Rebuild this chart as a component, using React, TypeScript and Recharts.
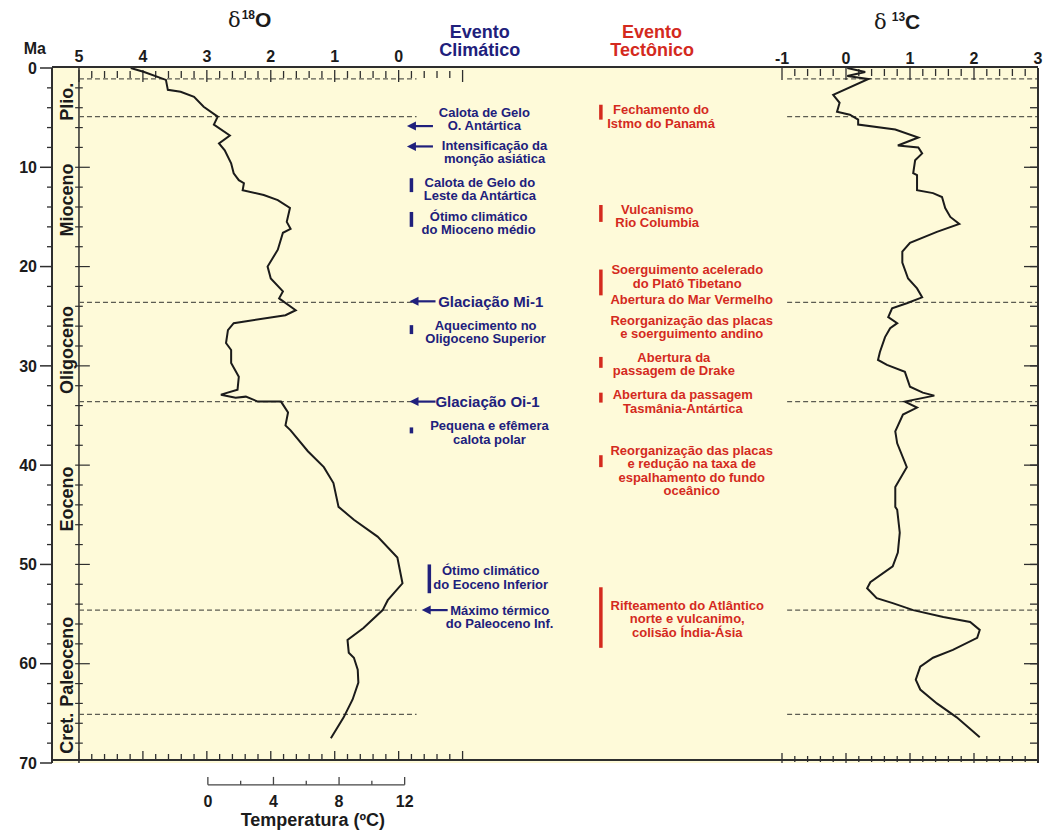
import React from 'react';
import {
  ScatterChart,
  Scatter,
  XAxis,
  YAxis,
  ReferenceLine,
  ReferenceDot,
  CartesianGrid,
} from 'recharts';

const FONT = '"Liberation Sans", Arial, Helvetica, sans-serif';
const NAVY = '#20207c';
const RED = '#d42a1e';
const INK = '#1b1b1b';
const FRAME = '#2e2e2e';
const DASH = '#5c5c52';
const CREAM = '#fefad9';

// ---------- axes / ticks ----------
const O18_DOMAIN: [number, number] = [-10, 5.421875];
const C13_DOMAIN: [number, number] = [-12.40625, 3];
const MA_DOMAIN: [number, number] = [0, 70];

const steps = (a: number, b: number, step: number) => {
  const n = Math.round((b - a) / step);
  const out: number[] = [];
  for (let i = 0; i <= n; i++) out.push(Math.round((a + i * step) * 1000) / 1000);
  return out;
};

const maTicks = [0, 10, 20, 30, 40, 50, 60, 70];
const maInnerMajor = [10, 20, 30, 40, 50, 60];
const maMinorTicks = steps(2, 68, 2).filter((v) => v % 10 !== 0);
const maAllTicks = steps(2, 68, 2);

const o18Labels = [5, 4, 3, 2, 1, 0];
const o18MajorTicks = [5, 4, 3, 2, 1, 0, -1];
const o18MinorTicks = steps(-1, 5, 0.2).filter((v) => Math.abs(v - Math.round(v)) > 1e-6);
const c13Labels = [-1, 0, 1, 2, 3];
const c13MajorTicks = [-1, 0, 1, 2, 3];
const c13MinorTicks = steps(-1, 3, 0.2).filter((v) => Math.abs(v - Math.round(v)) > 1e-6);

// temperature scale drawn under the δ18O panel (0 ºC ≈ δ18O 2.98, 12 ºC ≈ δ18O -0.09)
const tempLabels = [0, 4, 8, 12];
const tempMinor = [2, 6, 10];
const tempToO18 = (t: number) => 2.984 - 0.2565 * t;

// ---------- series ----------
const d18O = [
  { v: 4.19, ma: 0 }, { v: 3.98, ma: 0.4 }, { v: 3.64, ma: 1.2 }, { v: 3.61, ma: 2.2 },
  { v: 3.41, ma: 2.4 }, { v: 3.2, ma: 2.9 }, { v: 3.05, ma: 3.9 }, { v: 2.83, ma: 4.9 },
  { v: 2.89, ma: 5.7 }, { v: 2.64, ma: 6.8 }, { v: 2.81, ma: 7.6 }, { v: 2.72, ma: 8.3 },
  { v: 2.62, ma: 9.6 }, { v: 2.58, ma: 10.6 }, { v: 2.5, ma: 11.3 }, { v: 2.42, ma: 11.6 },
  { v: 2.44, ma: 12.3 }, { v: 2.11, ma: 12.8 }, { v: 1.89, ma: 13.3 }, { v: 1.7, ma: 14.1 },
  { v: 1.75, ma: 15.5 }, { v: 1.69, ma: 16.2 }, { v: 1.81, ma: 16.6 }, { v: 1.89, ma: 18.3 },
  { v: 2.05, ma: 20.0 }, { v: 2.0, ma: 21.2 }, { v: 1.81, ma: 22.5 }, { v: 1.87, ma: 23.2 },
  { v: 1.61, ma: 24.4 }, { v: 1.77, ma: 24.9 }, { v: 2.58, ma: 25.7 }, { v: 2.67, ma: 26.4 },
  { v: 2.7, ma: 27.7 }, { v: 2.62, ma: 28.4 }, { v: 2.62, ma: 29.7 }, { v: 2.5, ma: 31.1 },
  { v: 2.52, ma: 32.4 }, { v: 2.78, ma: 32.9 }, { v: 2.55, ma: 33.2 }, { v: 2.39, ma: 33.1 },
  { v: 2.2, ma: 33.6 }, { v: 1.84, ma: 33.6 }, { v: 1.73, ma: 34.7 }, { v: 1.77, ma: 36.0 },
  { v: 1.69, ma: 36.5 }, { v: 1.42, ma: 38.6 }, { v: 1.17, ma: 40.2 }, { v: 1.02, ma: 41.8 },
  { v: 0.94, ma: 44.2 }, { v: 0.7, ma: 45.5 }, { v: 0.33, ma: 47.2 }, { v: 0.02, ma: 49.3 },
  { v: -0.06, ma: 51.9 }, { v: 0.17, ma: 53.6 }, { v: 0.25, ma: 54.6 }, { v: 0.55, ma: 56.4 },
  { v: 0.8, ma: 57.6 }, { v: 0.78, ma: 58.9 }, { v: 0.7, ma: 59.4 }, { v: 0.64, ma: 60.6 },
  { v: 0.63, ma: 61.9 }, { v: 0.72, ma: 63.6 }, { v: 0.86, ma: 65.4 }, { v: 1.06, ma: 67.5 },
];

const d13C = [
  { v: 0.02, ma: 0 }, { v: 0.3, ma: 0.4 }, { v: 0.02, ma: 0.8 }, { v: 0.35, ma: 1.1 },
  { v: -0.2, ma: 2.7 }, { v: -0.1, ma: 3.5 }, { v: -0.14, ma: 4.4 }, { v: 0.06, ma: 4.7 },
  { v: 0.19, ma: 5.2 }, { v: 0.19, ma: 5.7 }, { v: 0.77, ma: 6.2 }, { v: 1.13, ma: 7.0 },
  { v: 0.81, ma: 7.8 }, { v: 1.13, ma: 8.0 }, { v: 1.19, ma: 8.6 }, { v: 1.08, ma: 9.3 },
  { v: 1.05, ma: 10.6 }, { v: 1.11, ma: 10.8 }, { v: 1.11, ma: 12.3 }, { v: 1.36, ma: 12.6 },
  { v: 1.5, ma: 13.0 }, { v: 1.55, ma: 14.1 }, { v: 1.63, ma: 15.0 }, { v: 1.77, ma: 15.7 },
  { v: 1.42, ma: 16.5 }, { v: 1.0, ma: 17.6 }, { v: 0.88, ma: 18.5 }, { v: 0.88, ma: 19.6 },
  { v: 0.97, ma: 21.2 }, { v: 1.11, ma: 22.2 }, { v: 1.19, ma: 23.1 }, { v: 0.95, ma: 23.7 },
  { v: 0.72, ma: 24.2 }, { v: 0.66, ma: 25.1 }, { v: 0.8, ma: 25.7 }, { v: 0.69, ma: 26.2 },
  { v: 0.61, ma: 27.1 }, { v: 0.53, ma: 28.6 }, { v: 0.5, ma: 29.4 }, { v: 0.64, ma: 29.9 },
  { v: 0.92, ma: 30.6 }, { v: 1.0, ma: 32.1 }, { v: 1.2, ma: 32.7 }, { v: 1.38, ma: 33.0 },
  { v: 0.92, ma: 33.6 }, { v: 1.11, ma: 34.2 }, { v: 0.89, ma: 34.9 }, { v: 0.77, ma: 36.6 },
  { v: 0.8, ma: 37.8 }, { v: 0.95, ma: 40.2 }, { v: 0.77, ma: 42.2 }, { v: 0.77, ma: 44.2 },
  { v: 0.8, ma: 44.5 }, { v: 0.84, ma: 46.8 }, { v: 0.81, ma: 48.8 }, { v: 0.73, ma: 50.2 },
  { v: 0.38, ma: 51.8 }, { v: 0.33, ma: 52.4 }, { v: 0.48, ma: 53.4 }, { v: 0.73, ma: 53.9 },
  { v: 1.05, ma: 54.6 }, { v: 1.52, ma: 55.3 }, { v: 1.94, ma: 55.8 }, { v: 2.09, ma: 56.6 },
  { v: 2.05, ma: 57.4 }, { v: 1.67, ma: 58.6 }, { v: 1.36, ma: 59.4 }, { v: 1.16, ma: 60.3 },
  { v: 1.09, ma: 61.6 }, { v: 1.16, ma: 62.6 }, { v: 1.42, ma: 64.0 }, { v: 1.73, ma: 65.4 },
  { v: 2.09, ma: 67.4 },
];

// epoch boundaries (Ma) and epoch names
const boundaries = [1.1, 4.9, 23.6, 33.6, 54.6, 65.1];
const epochs = [
  { name: 'Plio.', ma: 3.4 },
  { name: 'Mioceno', ma: 13.3 },
  { name: 'Oligoceno', ma: 28.4 },
  { name: 'Eoceno', ma: 43.4 },
  { name: 'Paleoceno', ma: 59.8 },
  { name: 'Cret.', ma: 67.0 },
];

// climatic events (x in δ18O units, y in Ma)
const climArrows = [
  { ma: 5.85, tip: -0.13 },
  { ma: 7.9, tip: -0.13 },
  { ma: 23.5, tip: -0.17 },
  { ma: 33.6, tip: -0.17 },
  { ma: 54.6, tip: -0.36 },
];
const climBars = [
  { from: 11.1, to: 12.5, x: -0.2 },
  { from: 14.5, to: 16.0, x: -0.2 },
  { from: 25.9, to: 26.8, x: -0.2 },
  { from: 36.2, to: 36.8, x: -0.2 },
  { from: 50.0, to: 52.9, x: -0.48 },
];
const climTexts = [
  { x: -1.34, ma: 4.43, size: 13, lines: ['Calota de Gelo', 'O. Antártica'] },
  { x: -1.5, ma: 7.75, size: 13, lines: ['Intensificação da', 'monção asiática'] },
  { x: -1.27, ma: 11.5, size: 13, lines: ['Calota de Gelo do', 'Leste da Antártica'] },
  { x: -1.25, ma: 14.9, size: 13, lines: ['Ótimo climático', 'do Mioceno médio'] },
  { x: -1.44, ma: 23.5, size: 15, lines: ['Glaciação Mi-1'] },
  { x: -1.36, ma: 25.9, size: 13, lines: ['Aquecimento no', 'Oligoceno Superior'] },
  { x: -1.39, ma: 33.6, size: 15, lines: ['Glaciação Oi-1'] },
  { x: -1.42, ma: 36.0, size: 13, lines: ['Pequena e efêmera', 'calota polar'] },
  { x: -1.44, ma: 50.6, size: 13, lines: ['Ótimo climático', 'do Eoceno Inferior'] },
  { x: -1.58, ma: 54.6, size: 13, lines: ['Máximo térmico', 'do Paleoceno Inf.'] },
];

// tectonic events (x in δ13C units, y in Ma)
const tectBarX = -3.83;
const tectBars = [
  { from: 3.7, to: 5.2 },
  { from: 13.8, to: 15.5 },
  { from: 20.3, to: 22.9 },
  { from: 29.1, to: 30.2 },
  { from: 32.7, to: 33.7 },
  { from: 39.0, to: 40.2 },
  { from: 52.3, to: 58.4 },
];
const tectTexts = [
  { x: -2.89, ma: 4.2, lines: ['Fechamento do', 'Istmo do Panamá'] },
  { x: -2.95, ma: 14.2, lines: ['Vulcanismo', 'Rio Columbia'] },
  { x: -2.48, ma: 20.3, lines: ['Soerguimento acelerado', 'do Platô Tibetano'] },
  { x: -2.41, ma: 23.3, lines: ['Abertura do Mar Vermelho'] },
  { x: -2.41, ma: 25.4, lines: ['Reorganização das placas', 'e soerguimento andino'] },
  { x: -2.69, ma: 29.1, lines: ['Abertura da', 'passagem de Drake'] },
  { x: -2.55, ma: 32.9, lines: ['Abertura da passagem', 'Tasmânia-Antártica'] },
  { x: -2.41, ma: 38.5, lines: ['Reorganização das placas', 'e redução na taxa de', 'espalhamento do fundo', 'oceânico'] },
  { x: -2.48, ma: 54.1, lines: ['Rifteamento do Atlântico', 'norte e vulcanimo,', 'colisão Índia-Ásia'] },
];

// ---------- shapes ----------
const Empty = () => <g />;
const NoLabel = () => <g />;

const textShape = (lines: string[], color: string, size: number, lh: number) => (p: any) => (
  <text x={p.cx} y={p.cy} fill={color} fontSize={size} fontWeight={700} fontFamily={FONT} textAnchor="middle">
    {lines.map((l, i) => (
      <tspan key={i} x={p.cx} dy={i === 0 ? size * 0.36 : lh}>
        {l}
      </tspan>
    ))}
  </text>
);

const arrowShape = (p: any) => {
  const { cx, cy } = p;
  return (
    <g>
      <line x1={cx + 6} y1={cy} x2={cx + 26} y2={cy} stroke={NAVY} strokeWidth={2.2} />
      <polygon points={`${cx},${cy} ${cx + 9},${cy - 4.5} ${cx + 9},${cy + 4.5}`} fill={NAVY} />
    </g>
  );
};

const epochShape = (name: string) => (p: any) => (
  <text
    x={p.cx}
    y={p.cy}
    dy="0.36em"
    transform={`rotate(-90 ${p.cx} ${p.cy})`}
    textAnchor="middle"
    fill={INK}
    fontSize={18}
    fontWeight={700}
    fontFamily={FONT}
  >
    {name}
  </text>
);

const deltaHeader = (iso: string, el: string, gap: boolean) => (p: any) => (
  <text x={p.cx} y={p.cy} dy={7} textAnchor="middle" fill={INK} fontFamily={FONT}>
    <tspan fontFamily='"DejaVu Serif", serif' fontSize={21}>
      {'δ'}
    </tspan>
    <tspan dx={gap ? 5 : 1} dy={-8} fontSize={12} fontWeight={700}>
      {iso}
    </tspan>
    <tspan dy={8} fontSize={21} fontWeight={700}>
      {el}
    </tspan>
  </text>
);

const tickStyle = { fill: INK, fontSize: 16, fontWeight: 700, fontFamily: FONT };
const tl = { stroke: FRAME, strokeWidth: 1.3 };

export default function App() {
  return (
    <div style={{ position: 'absolute', left: 0, top: 0, width: 1047, height: 830, background: '#ffffff' }}>
      <ScatterChart width={1047} height={830} margin={{ top: 66, right: 9, bottom: 67, left: 50 }}>
        {/* background of the plot area */}
        <CartesianGrid xAxisId="o" yAxisId="ma" horizontal={false} vertical={false} fill={CREAM} fillOpacity={1} stroke="none" />

        {/* Y axes */}
        <YAxis yAxisId="ma" type="number" dataKey="ma" domain={MA_DOMAIN} reversed allowDataOverflow width={1}
          ticks={maTicks} interval={0} tickSize={12} tickMargin={3} stroke={FRAME}
          axisLine={{ stroke: FRAME, strokeWidth: 2 }} tickLine={{ stroke: FRAME, strokeWidth: 1.5 }} tick={tickStyle} />
        <YAxis yAxisId="maMinor" type="number" dataKey="ma" domain={MA_DOMAIN} reversed allowDataOverflow width={1}
          ticks={maMinorTicks} interval={0} tickSize={4} tick={NoLabel} tickLine={tl} axisLine={false} stroke={FRAME} />
        <YAxis yAxisId="maRight" orientation="right" mirror type="number" dataKey="ma" domain={MA_DOMAIN} reversed allowDataOverflow width={1}
          ticks={maAllTicks} interval={0} tickSize={8} tick={NoLabel} tickLine={tl} stroke={FRAME}
          axisLine={{ stroke: FRAME, strokeWidth: 2 }} />
        <YAxis yAxisId="maRightMajor" orientation="right" mirror type="number" dataKey="ma" domain={MA_DOMAIN} reversed allowDataOverflow width={1}
          ticks={maInnerMajor} interval={0} tickSize={13} tick={NoLabel} tickLine={tl} axisLine={false} stroke={FRAME} />

        {/* δ18O axes */}
        <XAxis xAxisId="o" orientation="top" type="number" dataKey="v" domain={O18_DOMAIN} reversed allowDataOverflow height={1}
          ticks={o18Labels} interval={0} tickSize={0} tickMargin={5} tickLine={false} stroke={FRAME}
          axisLine={{ stroke: FRAME, strokeWidth: 2 }} tick={tickStyle} />
        <XAxis xAxisId="oTopMinor" orientation="top" mirror type="number" dataKey="v" domain={O18_DOMAIN} reversed allowDataOverflow height={1}
          ticks={o18MinorTicks} interval={0} tickSize={7} tick={NoLabel} tickLine={tl} axisLine={false} stroke={FRAME} />
        <XAxis xAxisId="oTopMajor" orientation="top" mirror type="number" dataKey="v" domain={O18_DOMAIN} reversed allowDataOverflow height={1}
          ticks={o18MajorTicks} interval={0} tickSize={12} tick={NoLabel} tickLine={tl} axisLine={false} stroke={FRAME} />
        <XAxis xAxisId="oBotMinor" orientation="bottom" mirror type="number" dataKey="v" domain={O18_DOMAIN} reversed allowDataOverflow height={1}
          ticks={o18MinorTicks} interval={0} tickSize={6} tick={NoLabel} tickLine={tl} stroke={FRAME}
          axisLine={{ stroke: FRAME, strokeWidth: 2 }} />
        <XAxis xAxisId="oBotMajor" orientation="bottom" mirror type="number" dataKey="v" domain={O18_DOMAIN} reversed allowDataOverflow height={1}
          ticks={o18MajorTicks} interval={0} tickSize={10} tick={NoLabel} tickLine={tl} axisLine={false} stroke={FRAME} />

        {/* δ13C axes */}
        <XAxis xAxisId="c" orientation="top" type="number" dataKey="v" domain={C13_DOMAIN} allowDataOverflow height={1}
          ticks={c13Labels} interval={0} tickSize={0} tickMargin={4} tickLine={false} axisLine={false} stroke={FRAME}
          tick={tickStyle} />
        <XAxis xAxisId="cTopMinor" orientation="top" mirror type="number" dataKey="v" domain={C13_DOMAIN} allowDataOverflow height={1}
          ticks={c13MinorTicks} interval={0} tickSize={7} tick={NoLabel} tickLine={tl} axisLine={false} stroke={FRAME} />
        <XAxis xAxisId="cTopMajor" orientation="top" mirror type="number" dataKey="v" domain={C13_DOMAIN} allowDataOverflow height={1}
          ticks={c13MajorTicks} interval={0} tickSize={12} tick={NoLabel} tickLine={tl} axisLine={false} stroke={FRAME} />
        <XAxis xAxisId="cBotMinor" orientation="bottom" mirror type="number" dataKey="v" domain={C13_DOMAIN} allowDataOverflow height={1}
          ticks={c13MinorTicks} interval={0} tickSize={6} tick={NoLabel} tickLine={tl} axisLine={false} stroke={FRAME} />
        <XAxis xAxisId="cBotMajor" orientation="bottom" mirror type="number" dataKey="v" domain={C13_DOMAIN} allowDataOverflow height={1}
          ticks={c13MajorTicks} interval={0} tickSize={10} tick={NoLabel} tickLine={tl} axisLine={false} stroke={FRAME} />

        {/* epoch column divider */}
        <ReferenceLine xAxisId="o" yAxisId="ma" x={5} stroke={FRAME} strokeWidth={1.5} />
        {maAllTicks.map((m) => (
          <ReferenceLine key={`dv${m}`} xAxisId="o" yAxisId="ma" stroke={FRAME} strokeWidth={1.2}
            segment={[{ x: 5.06, y: m }, { x: m % 10 === 0 ? 4.83 : 4.94, y: m }]} />
        ))}

        {/* epoch boundaries */}
        {boundaries.map((b) => (
          <ReferenceLine key={`bo${b}`} xAxisId="o" yAxisId="ma" stroke={DASH} strokeWidth={1.3} strokeDasharray="5 3"
            segment={[{ x: 5, y: b }, { x: -0.28, y: b }]} />
        ))}
        {boundaries.map((b) => (
          <ReferenceLine key={`bc${b}`} xAxisId="c" yAxisId="ma" stroke={DASH} strokeWidth={1.3} strokeDasharray="5 3"
            segment={[{ x: -0.92, y: b }, { x: 3, y: b }]} />
        ))}

        {/* epoch names */}
        {epochs.map((e) => (
          <ReferenceDot key={e.name} xAxisId="o" yAxisId="ma" x={5.2} y={e.ma} r={0} shape={epochShape(e.name)} ifOverflow="visible" />
        ))}

        {/* climatic events */}
        {climBars.map((b, i) => (
          <ReferenceLine key={`cb${i}`} xAxisId="o" yAxisId="ma" stroke={NAVY} strokeWidth={3.5}
            segment={[{ x: b.x, y: b.from }, { x: b.x, y: b.to }]} />
        ))}
        {climArrows.map((a, i) => (
          <ReferenceDot key={`ca${i}`} xAxisId="o" yAxisId="ma" x={a.tip} y={a.ma} r={0} shape={arrowShape} ifOverflow="visible" />
        ))}
        {climTexts.map((t, i) => (
          <ReferenceDot key={`ct${i}`} xAxisId="o" yAxisId="ma" x={t.x} y={t.ma} r={0}
            shape={textShape(t.lines, NAVY, t.size, 13.5)} ifOverflow="visible" />
        ))}

        {/* tectonic events */}
        {tectBars.map((b, i) => (
          <ReferenceLine key={`tb${i}`} xAxisId="c" yAxisId="ma" stroke={RED} strokeWidth={3.5}
            segment={[{ x: tectBarX, y: b.from }, { x: tectBarX, y: b.to }]} />
        ))}
        {tectTexts.map((t, i) => (
          <ReferenceDot key={`tt${i}`} xAxisId="c" yAxisId="ma" x={t.x} y={t.ma} r={0}
            shape={textShape(t.lines, RED, 13, 13.5)} ifOverflow="visible" />
        ))}

        {/* headers */}
        <ReferenceDot xAxisId="o" yAxisId="ma" x={5.69} y={-2.0} r={0} ifOverflow="visible"
          shape={textShape(['Ma'], INK, 16, 16)} />
        <ReferenceDot xAxisId="o" yAxisId="ma" x={2.33} y={-4.83} r={0} ifOverflow="visible" shape={deltaHeader('18', 'O', false)} />
        <ReferenceDot xAxisId="c" yAxisId="ma" x={0.8} y={-4.63} r={0} ifOverflow="visible" shape={deltaHeader('13', 'C', true)} />
        <ReferenceDot xAxisId="o" yAxisId="ma" x={-1.27} y={-3.63} r={0} ifOverflow="visible"
          shape={textShape(['Evento', 'Climático'], NAVY, 18, 18)} />
        <ReferenceDot xAxisId="c" yAxisId="ma" x={-3.03} y={-3.63} r={0} ifOverflow="visible"
          shape={textShape(['Evento', 'Tectônico'], RED, 18, 18)} />

        {/* temperature scale */}
        <ReferenceLine xAxisId="o" yAxisId="ma" stroke="#444" strokeWidth={1.3} ifOverflow="visible"
          segment={[{ x: tempToO18(0), y: 72.2 }, { x: tempToO18(12), y: 72.2 }]} />
        {tempLabels.map((t) => (
          <ReferenceLine key={`tm${t}`} xAxisId="o" yAxisId="ma" stroke="#444" strokeWidth={1.3} ifOverflow="visible"
            segment={[{ x: tempToO18(t), y: 71.4 }, { x: tempToO18(t), y: 72.2 }]} />
        ))}
        {tempMinor.map((t) => (
          <ReferenceLine key={`tn${t}`} xAxisId="o" yAxisId="ma" stroke="#444" strokeWidth={1.3} ifOverflow="visible"
            segment={[{ x: tempToO18(t), y: 71.8 }, { x: tempToO18(t), y: 72.2 }]} />
        ))}
        {tempLabels.map((t) => (
          <ReferenceDot key={`tl${t}`} xAxisId="o" yAxisId="ma" x={tempToO18(t)} y={73.9} r={0} ifOverflow="visible"
            shape={textShape([String(t)], INK, 16, 16)} />
        ))}
        <ReferenceDot xAxisId="o" yAxisId="ma" x={tempToO18(6.4)} y={75.7} r={0} ifOverflow="visible"
          shape={textShape(['Temperatura (ºC)'], INK, 18, 18)} />

        {/* isotope curves */}
        <Scatter data={d18O} xAxisId="o" yAxisId="ma" line={{ stroke: INK, strokeWidth: 2 }} shape={Empty} isAnimationActive={false} />
        <Scatter data={d13C} xAxisId="c" yAxisId="ma" line={{ stroke: INK, strokeWidth: 2 }} shape={Empty} isAnimationActive={false} />
      </ScatterChart>
    </div>
  );
}
